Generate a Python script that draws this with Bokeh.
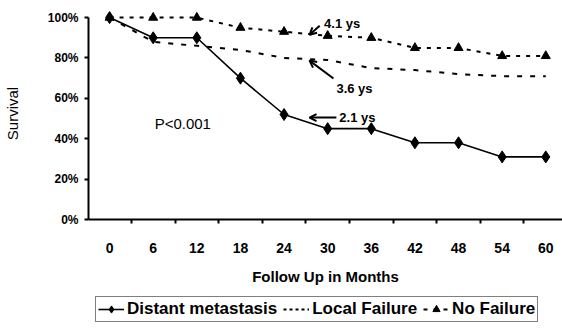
from bokeh.plotting import figure
from bokeh.layouts import column
from bokeh.models import (Range1d, FixedTicker, PrintfTickFormatter, Legend, LegendItem,
                          Label, Arrow, OpenHead)
from bokeh.embed import file_html
from bokeh.resources import INLINE

months = [0, 6, 12, 18, 24, 30, 36, 42, 48, 54, 60]
distant = [100, 90, 90, 70, 52, 45, 45, 38, 38, 31, 31]
local = [100, 88, 86, 84, 80, 79, 75, 74, 72, 71, 71]
nofail = [100, 100, 100, 95, 93, 91, 90, 85, 85, 81, 81]
y_ticks = [0, 20, 40, 60, 80, 100]
series_names = ["Distant metastasis", "Local Failure", "No Failure"]

FONT = "Liberation Sans"

p = figure(width=562, height=292, output_backend="svg", toolbar_location=None,
           x_range=Range1d(-2.9, 62.3), y_range=Range1d(0, 105),
           min_border_left=86, min_border_right=0, min_border_top=7, min_border_bottom=73)
p.outline_line_color = None
p.xgrid.grid_line_color = None
p.ygrid.grid_line_color = None
p.background_fill_color = "white"
p.border_fill_color = "white"

# x axis
xa = p.xaxis[0]
xa.ticker = FixedTicker(ticks=months, minor_ticks=[m - 3 for m in months] + [63])
xa.major_tick_out = 0
xa.major_tick_in = 0
xa.minor_tick_out = 4
xa.minor_tick_in = 0
xa.minor_tick_line_width = 2
xa.minor_tick_line_color = "black"
xa.axis_line_width = 2
xa.axis_line_color = "black"
xa.major_label_standoff = 19
xa.major_label_text_font = FONT
xa.major_label_text_font_style = "bold"
xa.major_label_text_font_size = "14px"
xa.major_label_text_color = "black"
xa.axis_label = "Follow Up in Months"
xa.axis_label_text_font = FONT
xa.axis_label_text_font_style = "bold"
xa.axis_label_text_font_size = "15px"
xa.axis_label_text_color = "black"
xa.axis_label_standoff = 12

# y axis
ya = p.yaxis[0]
ya.ticker = FixedTicker(ticks=y_ticks, minor_ticks=[])
ya.bounds = (0, 100)
ya.formatter = PrintfTickFormatter(format="%d%%")
ya.major_tick_out = 4
ya.major_tick_in = 0
ya.major_tick_line_width = 2
ya.major_tick_line_color = "black"
ya.axis_line_width = 2
ya.axis_line_color = "black"
ya.major_label_standoff = 6
ya.major_label_text_font = FONT
ya.major_label_text_font_style = "bold"
ya.major_label_text_font_size = "12px"
ya.major_label_text_color = "black"
ya.axis_label = "Survival"
ya.axis_label_text_font = FONT
ya.axis_label_text_font_style = "normal"
ya.axis_label_text_font_size = "15px"
ya.axis_label_text_color = "black"
ya.axis_label_standoff = 24

# series
p.line(months, nofail, line_color="black", line_width=2, line_dash="4 6")
p.scatter(months, nofail, marker="triangle", size=9, color="black")
p.line(months, local, line_color="black", line_width=2, line_dash="5 8")
p.line(months, distant, line_color="black", line_width=1.6)
p.scatter(months, distant, marker="diamond", size=12, color="black")

# annotations
for (xs, ys, xe, ye) in [(28.9, 96.0, 27.5, 91.5), (30.8, 69.8, 27.5, 78.7), (31.2, 50.5, 27.5, 50.5)]:
    p.add_layout(Arrow(end=OpenHead(size=7, line_width=2, line_color="black"),
                       x_start=xs, y_start=ys, x_end=xe, y_end=ye,
                       line_width=2, line_color="black"))

for (tx, ty, txt) in [(29.5, 97, "4.1 ys"), (31.2, 65, "3.6 ys"), (31.6, 50.5, "2.1 ys")]:
    p.add_layout(Label(x=tx, y=ty, text=txt, text_font=FONT, text_font_size="13px",
                       text_font_style="bold", text_baseline="middle", text_color="black"))

p.add_layout(Label(x=6.2, y=47.5, text="P<0.001", text_font=FONT, text_font_size="15px",
                   text_baseline="middle", text_color="black"))

# legend strip (separate figure so the legend is not clipped)
q = figure(width=562, height=34, output_backend="svg", toolbar_location=None,
           x_axis_type=None, y_axis_type=None,
           x_range=Range1d(1000, 1001), y_range=Range1d(1000, 1001),
           min_border_left=0, min_border_right=0, min_border_top=0, min_border_bottom=0)
q.outline_line_color = None
q.xgrid.grid_line_color = None
q.ygrid.grid_line_color = None
qd_l = q.line(months, distant, line_color="black", line_width=1.6)
qd_s = q.scatter(months, distant, marker="diamond", size=10, color="black")
ql_l = q.line(months, local, line_color="black", line_width=2, line_dash="3 3")
qn_l = q.line(months, nofail, line_color="black", line_width=2, line_dash="4 6")
qn_s = q.scatter(months, nofail, marker="triangle", size=8, color="black")

legend = Legend(items=[
    LegendItem(label=series_names[0], renderers=[qd_l, qd_s]),
    LegendItem(label=series_names[1], renderers=[ql_l]),
    LegendItem(label=series_names[2], renderers=[qn_l, qn_s]),
], orientation="horizontal", location=(7, 4))
legend.border_line_color = "black"
legend.border_line_width = 1.5
legend.label_text_font = FONT
legend.label_text_font_style = "bold"
legend.label_text_font_size = "17px"
legend.label_text_color = "black"
legend.glyph_width = 26
legend.glyph_height = 18
legend.label_standoff = 3
legend.spacing = 6
legend.padding = 2
legend.margin = 0
legend.background_fill_color = "white"
q.add_layout(legend, "center")

open("out.html", "w").write(file_html(column(p, q, spacing=0), INLINE))
